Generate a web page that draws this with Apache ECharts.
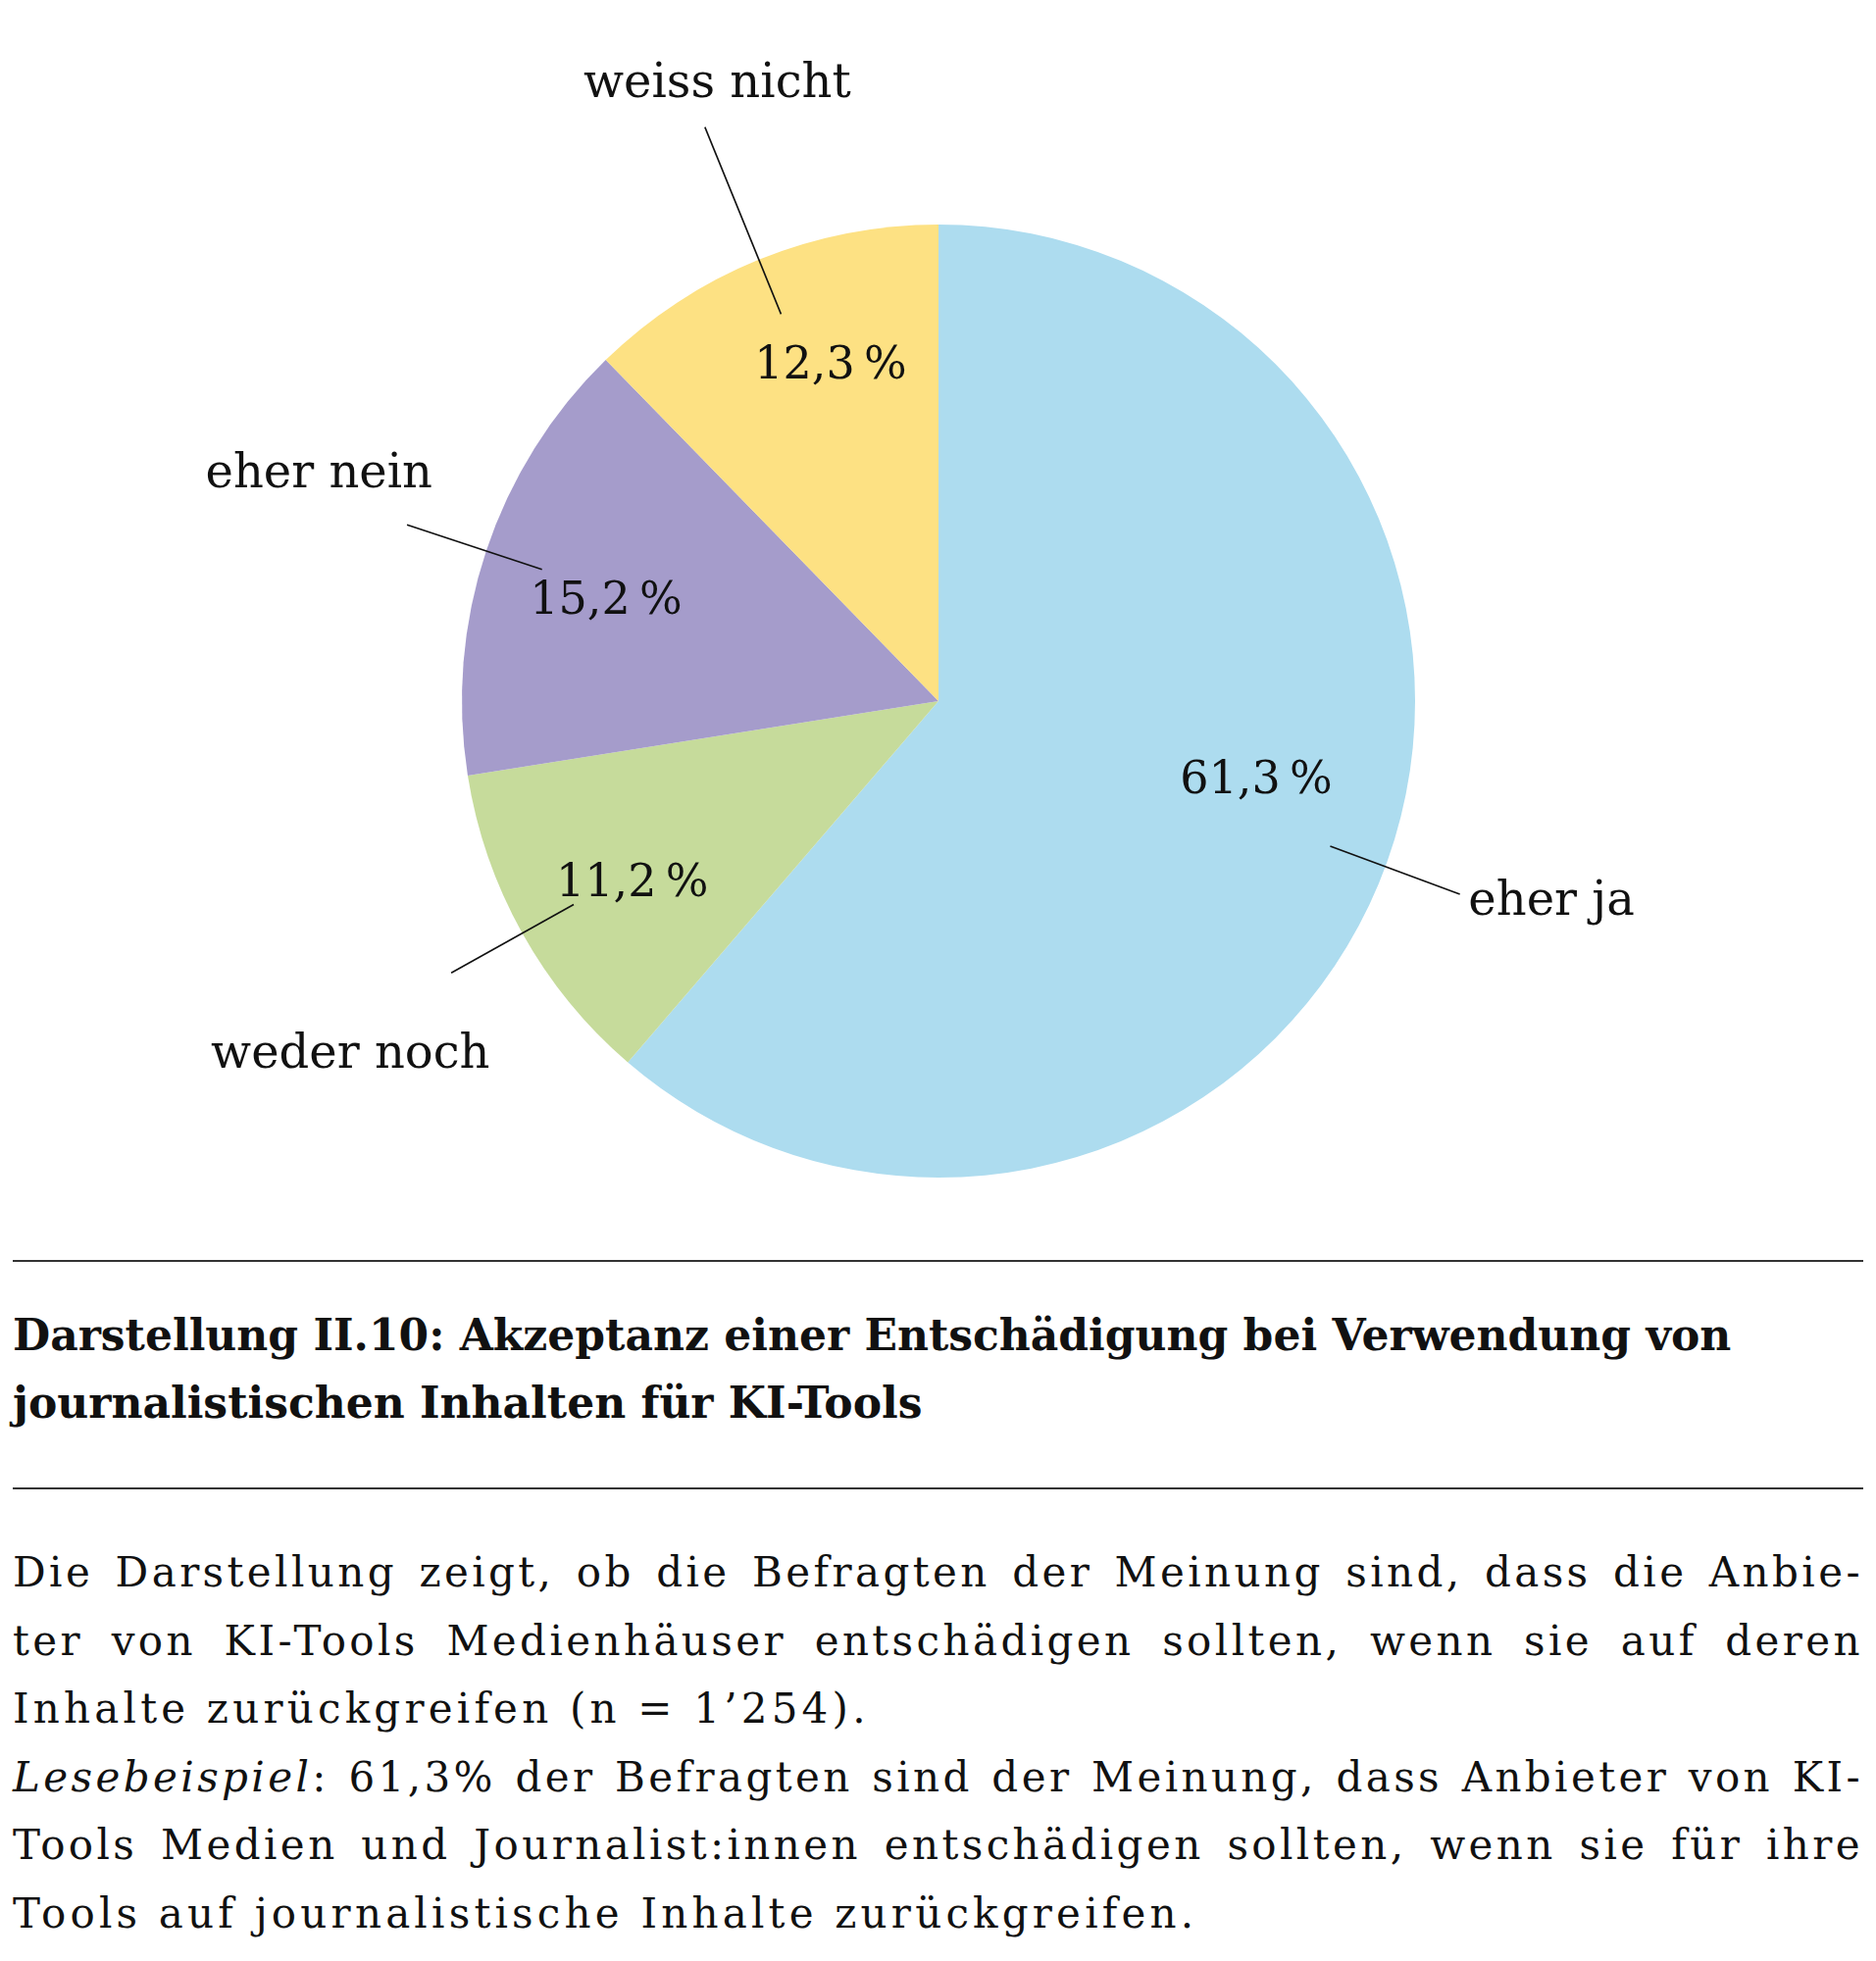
<!DOCTYPE html>
<html>
<head>
<meta charset="utf-8">
<script src="https://cdn.jsdelivr.net/npm/echarts@6/dist/echarts.min.js"></script>
<style>
  html, body { margin: 0; padding: 0; background: #fff; }
  body { width: 1913px; height: 2000px; position: relative; font-family: 'DejaVu Serif', serif; color: #111; }
  #chart { position: absolute; left: 0; top: 0; width: 1913px; height: 1270px; }
  .rule { position: absolute; left: 13px; width: 1887px; height: 0; border-top: 2px solid #333; }
  #title { position: absolute; left: 13px; top: 1327px; width: 1887px; font-weight: bold; font-size: 44px; line-height: 69px; }
  #note { position: absolute; left: 13px; top: 1569px; width: 1887px; font-size: 42px; line-height: 69.5px; letter-spacing: 4.2px; }
  #note div { white-space: nowrap; }
  #note .j { text-align: justify; text-align-last: justify; letter-spacing: 3.4px; }
</style>
</head>
<body>
<div id="chart"></div>
<div class="rule" style="top:1285px"></div>
<div id="title">Darstellung II.10: Akzeptanz einer Entschädigung bei Verwendung von<br>journalistischen Inhalten für KI-Tools</div>
<div class="rule" style="top:1517px"></div>
<div id="note">
  <div class="j">Die Darstellung zeigt, ob die Befragten der Meinung sind, dass die Anbie-</div>
  <div class="j">ter von KI-Tools Medienhäuser entschädigen sollten, wenn sie auf deren</div>
  <div>Inhalte zurückgreifen (n = 1’254).</div>
  <div class="j"><i>Lesebeispiel</i>: 61,3% der Befragten sind der Meinung, dass Anbieter von KI-</div>
  <div class="j">Tools Medien und Journalist:innen entschädigen sollten, wenn sie für ihre</div>
  <div>Tools auf journalistische Inhalte zurückgreifen.</div>
</div>
<script>
// Antworten, im Uhrzeigersinn ab 12 Uhr
const categories = ['eher ja', 'weder noch', 'eher nein', 'weiss nicht']
const shares = [61.3, 11.2, 15.2, 12.3]

// Darstellung
const colors = ['#ADDCEF', '#C6DB9B', '#A59CCB', '#FDE183']
const center = [957, 715]
const leaderLength = [141, 143, 145, 206]
const pctNudge = [[-7, -41], [-4, 15], [-4, 10], [23, -14]]
const nameNudge = [[-6, -28], [-12, 34], [7, -18], [28, -5]]

const fmtPct = v => v.toFixed(1).replace('.', ',') + '\u202F%'
const font = 'DejaVu Serif'

const chart = echarts.init(document.getElementById('chart'))

const clear = 'rgba(0,0,0,0)'
const base = {
  type: 'pie',
  center: center,
  startAngle: 90,
  clockwise: true,
  avoidLabelOverlap: false,
  silent: true,
  animation: false,
  emphasis: { disabled: true }
}

chart.setOption({
  series: [
    Object.assign({}, base, {
      radius: 486,
      data: categories.map((name, i) => ({ name, value: shares[i], itemStyle: { color: colors[i] } })),
      itemStyle: { borderWidth: 0 },
      label: { show: false },
      labelLine: { show: false }
    }),
    // Prozentwerte
    Object.assign({}, base, {
      radius: 700,
      z: 4,
      data: categories.map((name, i) => ({ name, value: shares[i] })),
      itemStyle: { color: clear, borderWidth: 0 },
      label: {
        show: true, position: 'inside', color: '#111',
        fontFamily: font, fontSize: 46,
        formatter: p => fmtPct(p.value)
      },
      labelLayout: p => ({ dx: pctNudge[p.dataIndex][0], dy: pctNudge[p.dataIndex][1] })
    }),
    // Kategorienamen
    Object.assign({}, base, {
      radius: 1340,
      z: 4,
      data: categories.map((name, i) => ({ name, value: shares[i] })),
      itemStyle: { color: clear, borderWidth: 0 },
      label: {
        show: true, position: 'inside', color: '#111',
        fontFamily: font, fontSize: 48,
        formatter: '{b}'
      },
      labelLayout: p => ({ dx: nameNudge[p.dataIndex][0], dy: nameNudge[p.dataIndex][1] })
    }),
    // Hinweislinien
    Object.assign({}, base, {
      radius: 426,
      z: 5,
      data: categories.map((name, i) => ({
        name, value: shares[i],
        labelLine: { length: leaderLength[i] }
      })),
      itemStyle: { color: clear, borderWidth: 0 },
      label: { show: true, position: 'outside', formatter: ' ', fontSize: 10 },
      labelLine: {
        show: true, length2: 0, smooth: false,
        lineStyle: { color: '#111', width: 1.6 }
      }
    })
  ]
})
</script>
</body>
</html>
